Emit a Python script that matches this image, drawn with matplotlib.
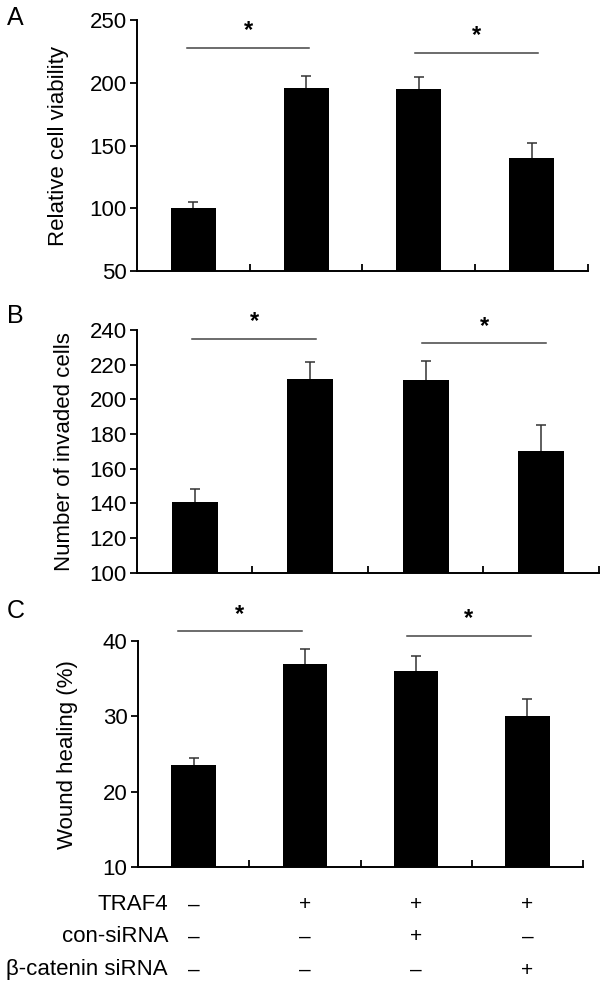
import matplotlib
matplotlib.use("Agg")
import matplotlib.pyplot as plt
import matplotlib.transforms as mtransforms

plt.rcParams['font.family'] = ['Liberation Sans', 'DejaVu Sans']

# data
groups = [0, 1, 2, 3]
viability = [100, 196, 195, 140]
viability_err = [5, 9, 9.5, 12]
invaded = [140.5, 212, 211, 170]
invaded_err = [7.5, 9.5, 11, 15]
wound = [23.5, 37, 36, 30]
wound_err = [1.0, 2.0, 2.0, 2.3]

row_names = ['TRAF4', 'con-siRNA', 'β-catenin siRNA']
traf4 = ['–', '+', '+', '+']
con_sirna = ['–', '–', '+', '–']
bcat_sirna = ['–', '–', '–', '+']

# significance brackets: (x start, x end, height)
sig_a = [(-0.06, 1.03, 227.7), (1.97, 3.06, 223.7)]
sig_b = [(-0.02, 1.05, 234.8), (1.97, 3.04, 232.3)]
sig_c = [(-0.14, 0.97, 41.3), (1.92, 3.03, 40.7)]

fig = plt.figure(figsize=(6, 9.91), dpi=100)


def panel(rect, vals, errs, ylim, yticks, ylabel, letter, letter_y, sigs, label_x):
    ax = fig.add_axes(rect)
    ax.bar(groups, [v - ylim[0] for v in vals], bottom=ylim[0], width=0.4,
           color='black', zorder=2)
    # upper error bars only, cap drawn on top end
    ax.errorbar(groups, vals, yerr=[[0] * 4, errs], fmt='none', ecolor='#333333',
                elinewidth=1.1, capsize=0, zorder=1)
    tops = [v + e for v, e in zip(vals, errs)]
    ax.plot(groups, tops, linestyle='none', marker='_', markersize=7,
            markeredgewidth=1.1, color='#333333', zorder=1)
    ax.set_xlim(-0.5, 3.5)
    ax.set_ylim(*ylim)
    ax.set_yticks(yticks)
    ax.set_xticks([0.5, 1.5, 2.5, 3.5])
    ax.set_xticklabels([])
    for s in ['top', 'right']:
        ax.spines[s].set_visible(False)
    for s in ['left', 'bottom']:
        ax.spines[s].set_linewidth(1.4)
    ax.tick_params(axis='y', direction='out', length=5, width=1.3, labelsize=16, pad=2.5)
    ax.tick_params(axis='x', direction='in', length=5, width=1.3)
    ax.set_ylabel(ylabel, fontsize=16)
    ax.yaxis.set_label_coords(label_x, 0.5)
    for x0, x1, h in sigs:
        ax.plot([x0, x1], [h, h], color='#444444', lw=1.1, clip_on=False)
        ax.annotate('*', ((x0 + x1) / 2, h), xytext=(0, 4), textcoords='offset points',
                    ha='center', va='bottom', fontsize=17, fontweight='bold',
                    annotation_clip=False)
    fig.text(0.012, 1 - letter_y / 991, letter, fontsize=18, va='center', ha='left')
    return ax


panel([0.2283, 0.7265, 0.7517, 0.2533], viability, viability_err, (50, 250),
      [50, 100, 150, 200, 250], 'Relative cell viability', 'A', 18, sig_a, -0.15)
panel([0.2283, 0.4221, 0.7700, 0.2449], invaded, invaded_err, (100, 240),
      [100, 120, 140, 160, 180, 200, 220, 240], 'Number of invaded cells', 'B', 316,
      sig_b, -0.134)
axc = panel([0.2300, 0.1248, 0.7417, 0.2284], wound, wound_err, (10, 40),
            [10, 20, 30, 40], 'Wound healing (%)', 'C', 611, sig_c, -0.135)

trans = mtransforms.blended_transform_factory(axc.transData, fig.transFigure)
row_y = [1 - 905 / 991, 1 - 937 / 991, 1 - 970 / 991]
for name, signs, y in zip(row_names, [traf4, con_sirna, bcat_sirna], row_y):
    fig.text(0.28, y, name, ha='right', va='center', fontsize=16)
    for g, s in zip(groups, signs):
        fig.text(g, y, s, transform=trans, ha='center', va='center', fontsize=15)

fig.savefig('out.png', dpi=100)
